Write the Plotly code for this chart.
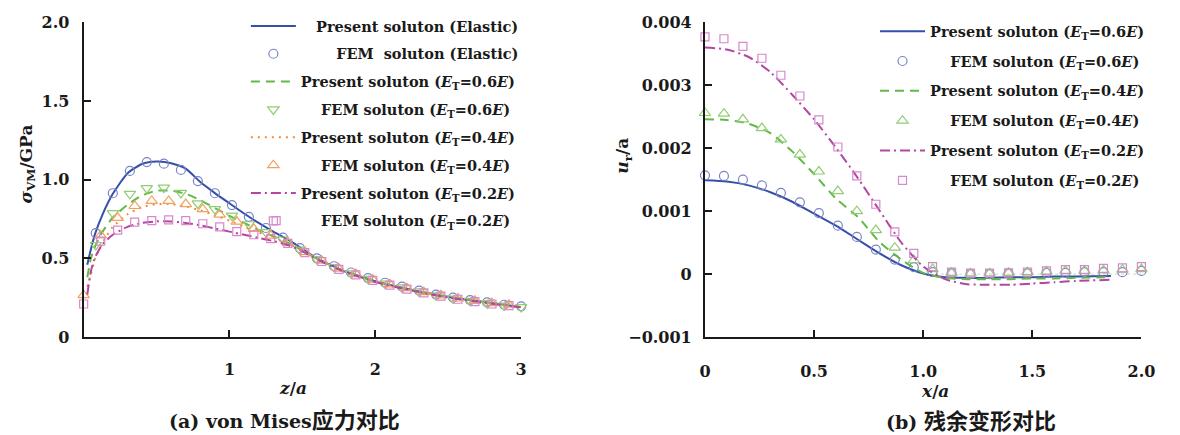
import plotly.graph_objects as go

W, H = 1180, 435

# ---------------- (a) von Mises stress ----------------
z_line = [0.025, 0.05, 0.08, 0.13, 0.2, 0.3, 0.4, 0.5, 0.6, 0.7, 0.8, 0.9, 1.0, 1.1, 1.2, 1.3,
          1.4, 1.5, 1.6, 1.7, 1.8, 1.9, 2.0, 2.2, 2.4, 2.6, 2.8, 3.0]
s_elastic = [0.46, 0.56, 0.66, 0.78, 0.91, 1.04, 1.10, 1.115, 1.105, 1.07, 0.985, 0.915, 0.85, 0.785,
             0.725, 0.67, 0.62, 0.56, 0.50, 0.455, 0.415, 0.385, 0.355, 0.31, 0.272, 0.242, 0.217, 0.19]
s_06 = [0.38, 0.50, 0.58, 0.67, 0.76, 0.84, 0.90, 0.93, 0.93, 0.91, 0.87, 0.82, 0.77, 0.725,
        0.68, 0.64, 0.60, 0.55, 0.498, 0.453, 0.413, 0.383, 0.353, 0.308, 0.27, 0.24, 0.215, 0.19]
s_04 = [0.32, 0.40, 0.50, 0.60, 0.70, 0.78, 0.825, 0.845, 0.845, 0.83, 0.805, 0.775, 0.74, 0.70,
        0.665, 0.63, 0.595, 0.55, 0.496, 0.452, 0.412, 0.382, 0.352, 0.307, 0.269, 0.239, 0.214, 0.19]
s_02 = [0.27, 0.42, 0.51, 0.59, 0.65, 0.70, 0.725, 0.735, 0.735, 0.725, 0.71, 0.69, 0.67, 0.65,
        0.63, 0.61, 0.585, 0.545, 0.494, 0.45, 0.41, 0.38, 0.35, 0.305, 0.267, 0.237, 0.212, 0.188]

zA = [0.083, 0.2, 0.317, 0.433, 0.55, 0.667, 0.783, 0.9, 1.017, 1.133, 1.25, 1.367, 1.483, 1.6,
      1.717, 1.833, 1.95, 2.067, 2.183, 2.3, 2.417, 2.533, 2.65, 2.767, 2.883, 3.0]
fem_elastic = [0.66, 0.914, 1.056, 1.112, 1.102, 1.062, 0.991, 0.914, 0.839, 0.764, 0.693, 0.632,
               0.565, 0.50, 0.45, 0.41, 0.375, 0.345, 0.32, 0.295, 0.27, 0.25, 0.235, 0.22, 0.205, 0.195]
fem_06 = [0.585, 0.788, 0.91, 0.946, 0.95, 0.916, 0.849, 0.813, 0.772, 0.717, 0.667, 0.62,
          0.555, 0.495, 0.445, 0.405, 0.37, 0.34, 0.315, 0.29, 0.265, 0.245, 0.23, 0.215, 0.20, 0.19]
zB = [0.0, 0.117, 0.233, 0.35, 0.467, 0.583, 0.7, 0.817, 0.933, 1.05, 1.167, 1.283, 1.4,
      1.517, 1.633, 1.75, 1.867, 1.983, 2.1, 2.217, 2.333, 2.45, 2.567, 2.683, 2.8, 2.917]
fem_04 = [0.266, 0.646, 0.758, 0.833, 0.865, 0.865, 0.845, 0.813, 0.778, 0.734, 0.687, 0.645,
          0.60, 0.54, 0.485, 0.435, 0.40, 0.365, 0.335, 0.31, 0.285, 0.265, 0.245, 0.23, 0.215, 0.205]
fem_02 = [0.21, 0.61, 0.68, 0.73, 0.74, 0.745, 0.74, 0.72, 0.70, 0.67, 0.65, 0.625,
          0.595, 0.537, 0.48, 0.43, 0.395, 0.36, 0.33, 0.305, 0.28, 0.26, 0.24, 0.225, 0.21, 0.20]
# isolated FEM (E_T=0.2E) point seen above the curves
z_extra = [1.32]
fem_02_extra = [0.74]

# ---------------- (b) residual deformation ----------------
x_line = [0.0, 0.1, 0.2, 0.3, 0.4, 0.5, 0.6, 0.7, 0.8, 0.9, 1.0, 1.1, 1.2, 1.3, 1.4, 1.5, 1.6, 1.7, 1.86]
u_06 = [0.00149, 0.00147, 0.00141, 0.0013, 0.00115, 0.00096, 0.00077, 0.00055, 0.00033, 0.00014,
        0.00001, -0.00005, -0.00006, -0.00006, -0.00005, -0.00005, -0.00004, -0.00004, -0.00003]
u_04 = [0.00246, 0.00245, 0.00239, 0.00224, 0.00195, 0.00159, 0.0012, 0.00091, 0.00051, 0.00023,
        0.00002, -0.00006, -0.00008, -0.00008, -0.00008, -0.00007, -0.00007, -0.00006, -0.00005]
u_02 = [0.0036, 0.00357, 0.00345, 0.00321, 0.00285, 0.00246, 0.00201, 0.00153, 0.00101, 0.0005,
        0.00012, -0.00008, -0.00016, -0.00017, -0.00017, -0.00015, -0.00013, -0.00011, -0.00009]

x_fem = [0.0, 0.087, 0.174, 0.261, 0.348, 0.435, 0.522, 0.609, 0.696, 0.783, 0.870, 0.957, 1.043,
         1.130, 1.217, 1.304, 1.391, 1.478, 1.565, 1.652, 1.739, 1.826, 1.913, 2.0]
uf_06 = [0.00157, 0.00156, 0.0015, 0.00141, 0.00129, 0.00114, 0.00097, 0.00077, 0.00059, 0.00039,
         0.00023, 0.00011, 0.00003, 0.00001, 0.0, 0.0, 0.00001, 0.00001, 0.00002, 0.00002, 0.00003,
         0.00003, 0.00003, 0.00005]
uf_04 = [0.00256, 0.00255, 0.00246, 0.00232, 0.00214, 0.0019, 0.00163, 0.00132, 0.001, 0.0007,
         0.00042, 0.00022, 0.00008, 0.00002, 0.00001, 0.00001, 0.00002, 0.00003, 0.00004, 0.00005,
         0.00005, 0.00006, 0.00007, 0.00008]
uf_02 = [0.00377, 0.00374, 0.00362, 0.00343, 0.00316, 0.00283, 0.00245, 0.00202, 0.00156, 0.00111,
         0.00067, 0.00033, 0.00012, 0.00003, 0.000015, 0.000015, 0.00002, 0.00003, 0.00005, 0.00007,
         0.00007, 0.00009, 0.0001, 0.00012]

ya_ticks = [0, 0.5, 1.0, 1.5, 2.0]
ya_text = ["0", "0.5", "1.0", "1.5", "2.0"]
xa_ticks = [1, 2, 3]
yb_ticks = [-0.001, 0, 0.001, 0.002, 0.003, 0.004]
yb_text = ["\u22120.001", "0", "0.001", "0.002", "0.003", "0.004"]
xb_ticks = [0, 0.5, 1.0, 1.5, 2.0]
xb_text = ["0", "0.5", "1.0", "1.5", "2.0"]

BLUE, BLUE_M = "#3550a8", "#7b84c8"
GREEN, GREEN_M = "#62b947", "#92cc74"
ORANGE, ORANGE_M = "#f58a35", "#f4a060"
MAG, MAG_M = "#b446a2", "#d888cc"

NB = "\u00a0"
ET = "(<i>E</i><sub>T</sub>=%s<i>E</i>)"

fig = go.Figure()


def line(x, y, color, dash, name, xa, ya, legend, grp):
    fig.add_trace(go.Scatter(x=x, y=y, mode="lines", name=name, xaxis=xa, yaxis=ya,
                             line=dict(color=color, width=2, dash=dash, shape="spline", smoothing=0.6),
                             legend=legend, legendgroup=grp))


def marks(x, y, color, symbol, size, name, xa, ya, legend, grp, show=True):
    fig.add_trace(go.Scatter(x=x, y=y, mode="markers", name=name, xaxis=xa, yaxis=ya,
                             marker=dict(color=color, symbol=symbol, size=size, line=dict(color=color, width=1.2)),
                             cliponaxis=False, legend=legend, legendgroup=grp, showlegend=show))


# (a)
line(z_line, s_elastic, BLUE, "solid", NB * 3 + "Present soluton (Elastic)", "x", "y", "legend", "a1")
marks(zA, fem_elastic, BLUE_M, "circle-open", 9, NB * 7 + "FEM" + NB + " soluton (Elastic)", "x", "y", "legend", "a2")
line(z_line, s_06, GREEN, "9px,6px", "Present soluton " + ET % "0.6", "x", "y", "legend", "a3")
marks(zA, fem_06, GREEN_M, "triangle-down-open", 10, NB * 4 + "FEM soluton " + ET % "0.6", "x", "y", "legend", "a4")
line(z_line, s_04, ORANGE, "2px,5px", "Present soluton " + ET % "0.4", "x", "y", "legend", "a5")
marks(zB, fem_04, ORANGE_M, "triangle-up-open", 10, NB * 4 + "FEM soluton " + ET % "0.4", "x", "y", "legend", "a6")
line(z_line, s_02, MAG, "10px,4px,2px,4px", "Present soluton " + ET % "0.2", "x", "y", "legend", "a7")
marks(zB, fem_02, MAG_M, "square-open", 8, NB * 4 + "FEM soluton " + ET % "0.2", "x", "y", "legend", "a8")
marks(z_extra, fem_02_extra, MAG_M, "square-open", 8, "extra", "x", "y", "legend", "a8", show=False)

# (b)
line(x_line, u_06, BLUE, "solid", "Present soluton " + ET % "0.6", "x2", "y2", "legend2", "b1")
marks(x_fem, uf_06, BLUE_M, "circle-open", 9, NB * 4 + "FEM soluton " + ET % "0.6", "x2", "y2", "legend2", "b2")
line(x_line, u_04, GREEN, "9px,6px", "Present soluton " + ET % "0.4", "x2", "y2", "legend2", "b3")
marks(x_fem, uf_04, GREEN_M, "triangle-up-open", 10, NB * 4 + "FEM soluton " + ET % "0.4", "x2", "y2", "legend2", "b4")
line(x_line, u_02, MAG, "10px,4px,2px,4px", "Present soluton " + ET % "0.2", "x2", "y2", "legend2", "b5")
marks(x_fem, uf_02, MAG_M, "square-open", 8, NB * 4 + "FEM soluton " + ET % "0.2", "x2", "y2", "legend2", "b6")

SERIF = "DejaVu Serif"
tickfont = dict(family=SERIF, size=16, color="#1a1a1a", weight="bold")
axis_common = dict(showline=True, linecolor="#1a1a1a", linewidth=2, ticks="inside", ticklen=7,
                   tickwidth=2, tickcolor="#1a1a1a", showgrid=False, zeroline=False,
                   tickfont=tickfont)

fig.update_layout(
    width=W, height=H, margin=dict(l=0, r=0, t=0, b=0),
    paper_bgcolor="white", plot_bgcolor="white",
    xaxis=dict(domain=[79 / W, 524 / W], range=[0, 3], tickvals=xa_ticks, anchor="y",
               ticklabelstandoff=17, **axis_common),
    yaxis=dict(domain=[1 - 343 / H, 1 - 14 / H], range=[0, 2], tickvals=ya_ticks, ticktext=ya_text,
               anchor="x", ticklabelstandoff=9, **axis_common),
    xaxis2=dict(domain=[711 / W, 1155 / W], range=[0, 2], tickvals=xb_ticks, ticktext=xb_text,
                anchor="y2", ticklabelstandoff=19, **axis_common),
    yaxis2=dict(domain=[1 - 343 / H, 1 - 14 / H], range=[-0.001, 0.004], tickvals=yb_ticks,
                ticktext=yb_text, anchor="x2", ticklabelstandoff=8, **axis_common),
    legend=dict(x=244 / W, y=1 - 1 / H, xanchor="left", yanchor="top", bgcolor="rgba(0,0,0,0)",
                font=dict(family=SERIF, size=14.5, color="#1a1a1a", weight="bold"),
                itemwidth=45, traceorder="grouped", tracegroupgap=6),
    legend2=dict(x=884 / W, y=1 - 6.5 / H, xanchor="left", yanchor="top", bgcolor="rgba(0,0,0,0)",
                 font=dict(family=SERIF, size=14.5, color="#1a1a1a", weight="bold"),
                 itemwidth=45, traceorder="grouped", tracegroupgap=8),
    showlegend=True,
)

fig.add_shape(type="line", xref="x2", yref="y2", x0=1.0, x1=2.0, y0=0, y1=0,
              line=dict(color="#cfcfcf", width=1, dash="dot"), layer="below")

ann_font = dict(family=SERIF, size=17, color="#1a1a1a", weight="bold")
cap_font = dict(family="DejaVu Serif, Noto Sans CJK SC", size=19, color="#1a1a1a", weight="bold")
CJK = "<span style='font-size:22px'>%s</span>"
anns = [
    dict(text="<i>σ</i><sub>VM</sub>/GPa", x=22 / W, y=1 - 162 / H, textangle=-90, font=ann_font),
    dict(text="<i>u</i><sub>r</sub>/a", x=628 / W, y=1 - 153 / H, textangle=-90, font=ann_font),
    dict(text="<i>z</i>/<i>a</i>", x=292 / W, y=1 - 396 / H, font=ann_font),
    dict(text="<i>x</i>/<i>a</i>", x=945 / W, y=1 - 399 / H, font=ann_font),
    dict(text="(a) von Mises" + CJK % "应力对比", x=283 / W, y=1 - 430 / H, font=cap_font),
    dict(text="(b) " + CJK % "残余变形对比", x=982 / W, y=1 - 431 / H, font=cap_font),
]
for a in anns:
    fig.add_annotation(xref="paper", yref="paper", showarrow=False, xanchor="center", yanchor="middle", **a)

fig.write_html("out.html")
